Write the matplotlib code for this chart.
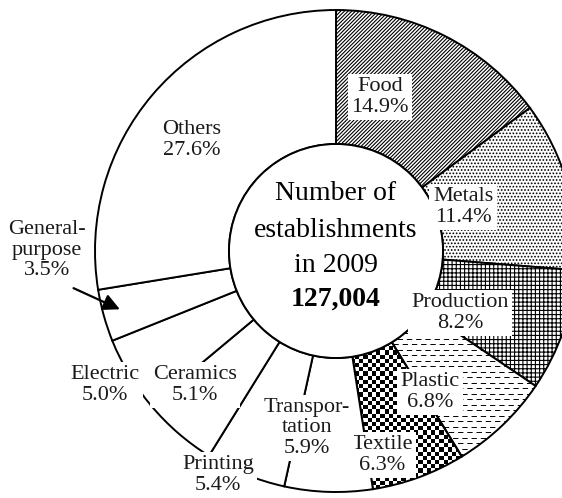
import matplotlib
matplotlib.use("Agg")
import matplotlib.pyplot as plt
import numpy as np

plt.rcParams['font.family'] = ['Liberation Serif', 'DejaVu Serif']
plt.rcParams['hatch.linewidth'] = 0.8

# data, clockwise from 12 o'clock
industries = ['Food', 'Metals', 'Production', 'Plastic', 'Textile',
              'Transpor-\ntation', 'Printing', 'Ceramics', 'Electric',
              'General-\npurpose', 'Others']
shares = [14.9, 11.4, 8.2, 6.8, 6.3, 5.9, 5.4, 5.1, 5.0, 3.5, 27.6]
total_label = '127,004'
year = 2009

# styling
hatches = ['/' * 9, '.' * 5, '+' * 4, '', '', '', '', '', '', '', '']
# label anchors (px from donut centre, y up)
label_pos = [(44, 154), (127, 44), (124, -62), (94, -141), (46, -204),
             (-29, -177), (-118, -224), (-141, -134), (-231, -134),
             (-289, 1), (-144, 111)]

R_OUT, R_IN = 241, 107

fig = plt.figure(figsize=(5.62, 4.98), dpi=100)
ax = fig.add_axes([0, 0, 1, 1])

wedges, _ = ax.pie(shares, radius=R_OUT, startangle=90, counterclock=False,
                   colors=['white'] * len(shares), hatch=hatches,
                   wedgeprops=dict(width=R_OUT - R_IN, edgecolor='black',
                                   linewidth=1.4))

# Plastic: dashed horizontal lines
w_pl = wedges[industries.index('Plastic')]
for k, yy in enumerate(np.arange(-247, 251, 5.5)):
    off = 0 if k % 2 else 4.5
    ln, = ax.plot([-336 + off, 226], [yy, yy], color='black', lw=0.7,
                  dashes=(5.5, 4), zorder=1.5)
    ln.set_clip_path(w_pl)

# Textile: checkerboard
w_tx = wedges[industries.index('Textile')]
w_tx.set_facecolor('none')
ny, nx = int(498 / 4.2), int(562 / 4.2)
board = (np.add.outer(np.arange(ny), np.arange(nx)) % 2).astype(float)
im = ax.imshow(board, cmap='gray', extent=(-336, 226, -247, 251),
               interpolation='nearest', zorder=0.5, aspect='auto')
im.set_clip_path(w_tx)
ax.set_xlim(-336, 226)
ax.set_ylim(-247, 251)
ax.set_aspect('equal')
ax.axis('off')

# centre circle
ax.add_patch(plt.Circle((0, 0), R_IN, facecolor='white', edgecolor='black',
                        lw=1.4, zorder=3))
ax.text(0, 58, 'Number of', ha='center', va='center', fontsize=20, zorder=4)
ax.text(0, 21, 'establishments', ha='center', va='center', fontsize=20, zorder=4)
ax.text(0, -14, f'in {year}', ha='center', va='center', fontsize=20, zorder=4)
ax.text(0, -48, total_label, ha='center', va='center', fontsize=20,
        fontweight='bold', zorder=4)

# labels
for name, val, (lx, ly) in zip(industries, shares, label_pos):
    ax.text(lx, ly, f'{name}\n{val:.1f}%', ha='center', va='center',
            fontsize=16, color='#1a1a1a', linespacing=1.1, zorder=5,
            bbox=dict(facecolor='white', edgecolor='none', pad=2.5))

# arrow to General-purpose wedge
gi = industries.index('General-\npurpose')
mid = np.deg2rad((wedges[gi].theta1 + wedges[gi].theta2) / 2)
tip = (0.92 * R_OUT * np.cos(mid), 0.92 * R_OUT * np.sin(mid))
ax.annotate('', xy=tip, xytext=(-265, -36),
            arrowprops=dict(arrowstyle='-|>,head_length=1.0,head_width=0.5',
                            color='black', lw=1.6), zorder=6)

fig.savefig('out.png', dpi=100)
